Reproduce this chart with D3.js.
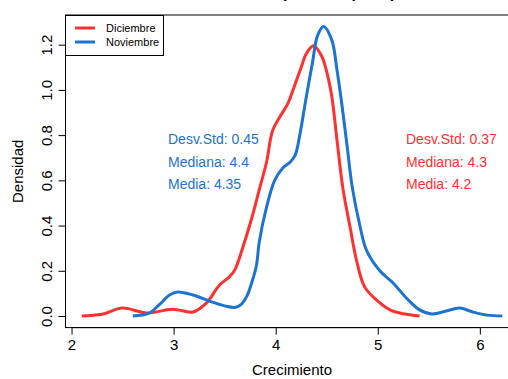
<!DOCTYPE html>
<html>
<head>
<meta charset="utf-8">
<script src="https://cdn.jsdelivr.net/npm/d3@7"></script>
<style>
  body { margin: 0; background: #fff; }
  svg { font-family: "Liberation Sans", Arial, sans-serif; }
</style>
</head>
<body>
<svg id="chart" width="508" height="379"></svg>
<script>
// Diciembre density curve
const dicX = [2.1, 2.3, 2.5, 2.74, 2.99, 3.19, 3.32, 3.45, 3.55, 3.6, 3.68, 3.77, 3.84, 3.91, 3.97, 4.04, 4.12, 4.17, 4.25, 4.3, 4.37, 4.45, 4.5, 4.55, 4.6, 4.66, 4.73, 4.79, 4.87, 4.99, 5.12, 5.25, 5.41];
const dicY = [0, 0.008, 0.035, 0.013, 0.03, 0.018, 0.057, 0.137, 0.175, 0.204, 0.306, 0.44, 0.56, 0.68, 0.82, 0.88, 0.94, 1.0, 1.10, 1.16, 1.195, 1.15, 1.08, 0.97, 0.78, 0.56, 0.39, 0.25, 0.13, 0.07, 0.027, 0.01, 0];
// Noviembre density curve
const novX = [2.6, 2.76, 2.86, 2.96, 3.04, 3.19, 3.35, 3.5, 3.6, 3.66, 3.72, 3.76, 3.81, 3.84, 3.91, 3.99, 4.07, 4.14, 4.19, 4.24, 4.3, 4.36, 4.41, 4.47, 4.55, 4.6, 4.65, 4.7, 4.75, 4.82, 4.89, 5.02, 5.15, 5.28, 5.41, 5.53, 5.67, 5.8, 5.93, 6.07, 6.22];
const novY = [0, 0.013, 0.05, 0.093, 0.106, 0.093, 0.066, 0.045, 0.038, 0.05, 0.09, 0.14, 0.22, 0.33, 0.48, 0.60, 0.655, 0.68, 0.71, 0.81, 0.97, 1.12, 1.24, 1.28, 1.22, 1.09, 0.93, 0.75, 0.57, 0.41, 0.29, 0.2, 0.146, 0.08, 0.027, 0.009, 0.022, 0.035, 0.018, 0.004, 0];

const xTicks = [2, 3, 4, 5, 6];
const yTicks = [0, 0.2, 0.4, 0.6, 0.8, 1.0, 1.2];
const seriesNames = ['Diciembre', 'Noviembre'];
const statsDic = ['Desv.Std: 0.37', 'Mediana: 4.3', 'Media: 4.2'];
const statsNov = ['Desv.Std: 0.45', 'Mediana: 4.4', 'Media: 4.35'];

const red = '#FF3030';
const blue = '#1C73D0';

const svg = d3.select('#chart');
const pLeft = 65, pRight = 517, pTop = 15, pBottom = 327.6;

const x = d3.scaleLinear().domain([1.936, 6.364]).range([pLeft, pRight]);
const y = d3.scaleLinear().domain([-0.0512, 1.3312]).range([pBottom, pTop]);

// title, cut off at the top of the picture
svg.append('text')
  .attr('x', (pLeft + pRight) / 2)
  .attr('y', -2.5)
  .attr('text-anchor', 'middle')
  .attr('font-weight', 'bold')
  .attr('font-size', 16)
  .text('Crecimiento por mes (2016)');

// frame
svg.append('rect')
  .attr('x', pLeft + 0.5).attr('y', pTop)
  .attr('width', pRight - pLeft).attr('height', pBottom - pTop)
  .attr('fill', 'none').attr('stroke', '#000').attr('stroke-width', 1);

const xAxis = d3.axisBottom(x).tickValues(xTicks).tickFormat(d3.format('d')).tickSize(7).tickPadding(5);
const gx = svg.append('g')
  .attr('transform', 'translate(0,' + pBottom + ')')
  .call(xAxis);
gx.select('.domain').attr('d', 'M' + x(2) + ',0H' + x(6));
gx.selectAll('text').attr('font-size', 15).attr('font-family', 'Liberation Sans, Arial, sans-serif').attr('fill', '#000');

const yAxis = d3.axisLeft(y).tickValues(yTicks).tickFormat(d3.format('.1f')).tickSize(7).tickPadding(6);
const gy = svg.append('g')
  .attr('transform', 'translate(' + (pLeft + 0.5) + ',0)')
  .call(yAxis);
gy.select('.domain').attr('d', 'M0,' + y(0) + 'V' + y(1.2));
gy.selectAll('text')
  .attr('font-size', 15).attr('font-family', 'Liberation Sans, Arial, sans-serif').attr('fill', '#000')
  .attr('text-anchor', 'middle')
  .attr('dy', null)
  .attr('x', 0).attr('y', -14)
  .attr('transform', 'rotate(-90)');

svg.append('text')
  .attr('x', (pLeft + pRight) / 2 + 1).attr('y', 375)
  .attr('text-anchor', 'middle').attr('font-size', 15)
  .text('Crecimiento');
svg.append('text')
  .attr('transform', 'translate(23,' + ((pTop + pBottom) / 2) + ') rotate(-90)')
  .attr('text-anchor', 'middle').attr('font-size', 15)
  .text('Densidad');

const line = d3.line()
  .x(d => x(d[0])).y(d => y(d[1]))
  .curve(d3.curveCatmullRom.alpha(0.5));

const series = [
  { pts: dicX.map((v, i) => [v, dicY[i]]), color: red },
  { pts: novX.map((v, i) => [v, novY[i]]), color: blue }
];
svg.selectAll('path.curve')
  .data(series)
  .enter().append('path')
  .attr('class', 'curve')
  .attr('d', s => line(s.pts))
  .attr('fill', 'none')
  .attr('stroke', s => s.color)
  .attr('stroke-width', 3);

// stats text
svg.selectAll('text.nov')
  .data(statsNov).enter().append('text')
  .attr('class', 'nov')
  .attr('x', 168).attr('y', (d, i) => 144 + i * 22.5)
  .attr('font-size', 14).attr('fill', blue)
  .text(d => d);
svg.selectAll('text.dic')
  .data(statsDic).enter().append('text')
  .attr('class', 'dic')
  .attr('x', 406).attr('y', (d, i) => 144 + i * 22.5)
  .attr('font-size', 14).attr('fill', red)
  .text(d => d);

// legend
const lg = svg.append('g');
lg.append('rect')
  .attr('x', pLeft + 0.5).attr('y', pTop + 0.5)
  .attr('width', 98).attr('height', 40)
  .attr('fill', '#fff').attr('stroke', '#000');
const items = lg.selectAll('g.item')
  .data(seriesNames).enter().append('g')
  .attr('transform', (d, i) => 'translate(0,' + (28 + i * 14) + ')');
items.append('line')
  .attr('x1', 75).attr('x2', 95)
  .attr('stroke', (d, i) => [red, blue][i]).attr('stroke-width', 3);
items.append('text')
  .attr('x', 106).attr('y', 4)
  .attr('font-size', 11)
  .text(d => d);
</script>
</body>
</html>
